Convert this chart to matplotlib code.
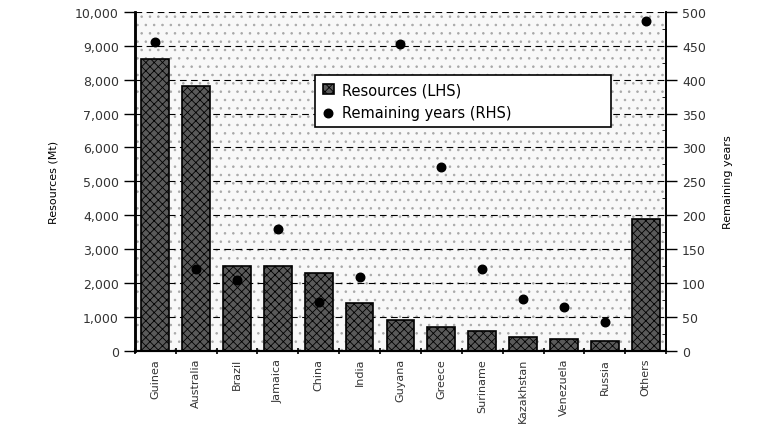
import numpy as np
import matplotlib.pyplot as plt
from matplotlib.ticker import FuncFormatter, MultipleLocator

countries = ['Guinea', 'Australia', 'Brazil', 'Jamaica', 'China', 'India', 'Guyana',
             'Greece', 'Suriname', 'Kazakhstan', 'Venezuela', 'Russia', 'Others']
resources_mt = [8600, 7800, 2500, 2500, 2300, 1400, 900, 700, 600, 400, 350, 300, 3900]
remaining_years = [455, 121, 105, 179, 72, 109, 453, 271, 121, 77, 65, 42, 487]
left_ticks = np.arange(0, 10001, 1000)
right_ticks = np.arange(0, 501, 50)

plt.rcParams['hatch.linewidth'] = 0.6

fig = plt.figure(figsize=(7.57, 4.27), dpi=100)
ax = fig.add_axes([0.178, 0.176, 0.702, 0.794])
ax2 = ax.twinx()

# stippled plot background
ax.patch.set_facecolor('#f8f8f8')
ax.patch.set_hatch('..')
ax.patch.set_edgecolor('#a8a8a8')
ax.patch.set_linewidth(0)

x = np.arange(len(countries))
ax.bar(x, resources_mt, width=0.68, color='#5a5a5a', edgecolor='black',
       linewidth=1.2, hatch='xxxx', label='Resources (LHS)', zorder=3)
ax2.scatter(x, remaining_years, marker='o', s=38, color='black',
            label='Remaining years (RHS)', zorder=4)

ax.set_xlim(-0.5, len(countries) - 0.5)
ax.set_ylim(0, 10000)
ax2.set_ylim(0, 500)
ax.set_yticks(left_ticks)
ax2.set_yticks(right_ticks)
ax.yaxis.set_major_formatter(FuncFormatter(lambda v, p: f'{int(v):,}'))
ax2.yaxis.set_major_formatter(FuncFormatter(lambda v, p: f'{int(v)}'))
ax2.yaxis.set_minor_locator(MultipleLocator(25))
ax.yaxis.grid(True, linestyle=(0, (6, 4)), color='black', linewidth=0.8, zorder=1)
ax.set_axisbelow(True)

ax.set_xticks(x)
ax.set_xticklabels(countries, rotation=90, fontsize=8, color='#333333')
ax.tick_params(axis='x', length=0, pad=5)
ax.set_xticks(np.arange(-0.5, len(countries)), minor=True)
ax.tick_params(axis='x', which='minor', length=4, width=1.2, direction='inout')
ax.tick_params(axis='y', length=8, width=1.0, labelsize=9, labelcolor='#333333')
ax2.tick_params(axis='y', length=8, width=1.0, labelsize=9, labelcolor='#333333')
ax2.tick_params(axis='y', which='minor', length=3, direction='in')

for a in (ax, ax2):
    a.spines['top'].set_visible(False)
    a.spines['left'].set_linewidth(1.8)
    a.spines['right'].set_linewidth(1.2)
    a.spines['bottom'].set_linewidth(1.5)

ax.set_ylabel('Resources (Mt)', fontsize=8, labelpad=12)
ax2.set_ylabel('Remaining years', fontsize=8, labelpad=12)

h1, l1 = ax.get_legend_handles_labels()
h2, l2 = ax2.get_legend_handles_labels()
leg = ax2.legend(h1 + h2, l1 + l2, loc='upper left',
                 bbox_to_anchor=(0.326, 0.835, 0.584, 0), mode='expand',
                 fontsize=10.5, frameon=True, fancybox=False, edgecolor='black',
                 framealpha=1, handlelength=0.8, handletextpad=0.5, borderpad=0.5)
leg.get_frame().set_linewidth(1.2)

fig.savefig('out.png', dpi=100)
plt.close()
